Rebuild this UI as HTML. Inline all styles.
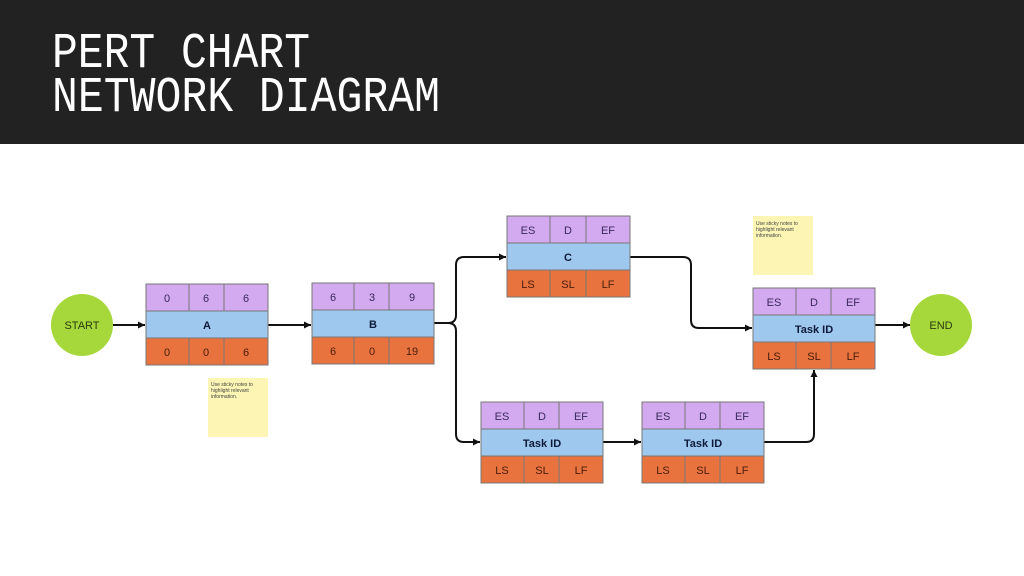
<!DOCTYPE html>
<html><head><meta charset="utf-8"><style>
html,body{margin:0;padding:0;background:#fff;}
svg{display:block;}
</style></head><body>
<svg width="1024" height="576" viewBox="0 0 1024 576" xmlns="http://www.w3.org/2000/svg" font-family="Liberation Sans, sans-serif">
<rect x="0" y="0" width="1024" height="144" fill="#222222"/>
<text x="52" y="67" fill="#fff" font-family="Liberation Mono, monospace" font-size="50" textLength="258" lengthAdjust="spacingAndGlyphs">PERT CHART</text>
<text x="52" y="111" fill="#fff" font-family="Liberation Mono, monospace" font-size="50" textLength="388" lengthAdjust="spacingAndGlyphs">NETWORK DIAGRAM</text>
<defs><marker id="ar" markerWidth="8" markerHeight="8" refX="7" refY="4" orient="auto" markerUnits="userSpaceOnUse"><path d="M0,0.5 L7,4 L0,7.5 Z" fill="#111"/></marker></defs>
<g fill="none" stroke="#111" stroke-width="2" marker-end="url(#ar)">
<line x1="113" y1="325" x2="145" y2="325"/>
<line x1="268" y1="325" x2="311" y2="325"/>
<path d="M434 323 H448 Q456 323 456 315 V265 Q456 257 464 257 H506"/>
<path d="M434 323 H448 Q456 323 456 331 V434 Q456 442 464 442 H480"/>
<path d="M630 257 H683 Q691 257 691 265 V320 Q691 328 699 328 H752"/>
<line x1="603" y1="442" x2="641" y2="442"/>
<path d="M764 442 H806 Q814 442 814 434 V370"/>
<line x1="875" y1="325" x2="910" y2="325"/>
</g>
<circle cx="82" cy="325" r="31" fill="#a6d83c"/>
<text x="82" y="329" font-size="11" text-anchor="middle" fill="#2a3a10">START</text>
<circle cx="941" cy="325" r="31" fill="#a6d83c"/>
<text x="941" y="329" font-size="11" text-anchor="middle" fill="#2a3a10">END</text>
<g font-size="11" text-anchor="middle" stroke-width="1">
<!-- A -->
<g transform="translate(146,284)">
<rect width="122" height="27" fill="#d3a9f0" stroke="#777"/><rect y="27" width="122" height="27" fill="#9fc8ee" stroke="#777"/><rect y="54" width="122" height="27" fill="#e8733e" stroke="#777"/>
<line x1="43" y1="0" x2="43" y2="27" stroke="#777"/><line x1="78" y1="0" x2="78" y2="27" stroke="#777"/><line x1="43" y1="54" x2="43" y2="81" stroke="#777"/><line x1="78" y1="54" x2="78" y2="81" stroke="#777"/>
<text x="21" y="18" fill="#3a2a5a">0</text><text x="60" y="18" fill="#3a2a5a">6</text><text x="100" y="18" fill="#3a2a5a">6</text>
<text x="61" y="45" font-weight="bold" fill="#0e1a3a">A</text>
<text x="21" y="72" fill="#4a1d0a">0</text><text x="60" y="72" fill="#4a1d0a">0</text><text x="100" y="72" fill="#4a1d0a">6</text>
</g>
<!-- B -->
<g transform="translate(312,283)">
<rect width="122" height="27" fill="#d3a9f0" stroke="#777"/><rect y="27" width="122" height="27" fill="#9fc8ee" stroke="#777"/><rect y="54" width="122" height="27" fill="#e8733e" stroke="#777"/>
<line x1="42" y1="0" x2="42" y2="27" stroke="#777"/><line x1="77" y1="0" x2="77" y2="27" stroke="#777"/><line x1="42" y1="54" x2="42" y2="81" stroke="#777"/><line x1="77" y1="54" x2="77" y2="81" stroke="#777"/>
<text x="21" y="18" fill="#3a2a5a">6</text><text x="60" y="18" fill="#3a2a5a">3</text><text x="100" y="18" fill="#3a2a5a">9</text>
<text x="61" y="45" font-weight="bold" fill="#0e1a3a">B</text>
<text x="21" y="72" fill="#4a1d0a">6</text><text x="60" y="72" fill="#4a1d0a">0</text><text x="100" y="72" fill="#4a1d0a">19</text>
</g>
<!-- C -->
<g transform="translate(507,216)">
<rect width="123" height="27" fill="#d3a9f0" stroke="#777"/><rect y="27" width="123" height="27" fill="#9fc8ee" stroke="#777"/><rect y="54" width="123" height="27" fill="#e8733e" stroke="#777"/>
<line x1="43" y1="0" x2="43" y2="27" stroke="#777"/><line x1="79" y1="0" x2="79" y2="27" stroke="#777"/><line x1="43" y1="54" x2="43" y2="81" stroke="#777"/><line x1="79" y1="54" x2="79" y2="81" stroke="#777"/>
<text x="21" y="18" fill="#3a2a5a">ES</text><text x="61" y="18" fill="#3a2a5a">D</text><text x="101" y="18" fill="#3a2a5a">EF</text>
<text x="61" y="45" font-weight="bold" fill="#0e1a3a">C</text>
<text x="21" y="72" fill="#4a1d0a">LS</text><text x="61" y="72" fill="#4a1d0a">SL</text><text x="101" y="72" fill="#4a1d0a">LF</text>
</g>
<!-- Right Task -->
<g transform="translate(753,288)">
<rect width="122" height="27" fill="#d3a9f0" stroke="#777"/><rect y="27" width="122" height="27" fill="#9fc8ee" stroke="#777"/><rect y="54" width="122" height="27" fill="#e8733e" stroke="#777"/>
<line x1="43" y1="0" x2="43" y2="27" stroke="#777"/><line x1="78" y1="0" x2="78" y2="27" stroke="#777"/><line x1="43" y1="54" x2="43" y2="81" stroke="#777"/><line x1="78" y1="54" x2="78" y2="81" stroke="#777"/>
<text x="21" y="18" fill="#3a2a5a">ES</text><text x="61" y="18" fill="#3a2a5a">D</text><text x="100" y="18" fill="#3a2a5a">EF</text>
<text x="61" y="45" font-weight="bold" fill="#0e1a3a">Task ID</text>
<text x="21" y="72" fill="#4a1d0a">LS</text><text x="61" y="72" fill="#4a1d0a">SL</text><text x="100" y="72" fill="#4a1d0a">LF</text>
</g>
<!-- Bottom 1 -->
<g transform="translate(481,402)">
<rect width="122" height="27" fill="#d3a9f0" stroke="#777"/><rect y="27" width="122" height="27" fill="#9fc8ee" stroke="#777"/><rect y="54" width="122" height="27" fill="#e8733e" stroke="#777"/>
<line x1="43" y1="0" x2="43" y2="27" stroke="#777"/><line x1="78" y1="0" x2="78" y2="27" stroke="#777"/><line x1="43" y1="54" x2="43" y2="81" stroke="#777"/><line x1="78" y1="54" x2="78" y2="81" stroke="#777"/>
<text x="21" y="18" fill="#3a2a5a">ES</text><text x="61" y="18" fill="#3a2a5a">D</text><text x="100" y="18" fill="#3a2a5a">EF</text>
<text x="61" y="45" font-weight="bold" fill="#0e1a3a">Task ID</text>
<text x="21" y="72" fill="#4a1d0a">LS</text><text x="61" y="72" fill="#4a1d0a">SL</text><text x="100" y="72" fill="#4a1d0a">LF</text>
</g>
<!-- Bottom 2 -->
<g transform="translate(642,402)">
<rect width="122" height="27" fill="#d3a9f0" stroke="#777"/><rect y="27" width="122" height="27" fill="#9fc8ee" stroke="#777"/><rect y="54" width="122" height="27" fill="#e8733e" stroke="#777"/>
<line x1="43" y1="0" x2="43" y2="27" stroke="#777"/><line x1="78" y1="0" x2="78" y2="27" stroke="#777"/><line x1="43" y1="54" x2="43" y2="81" stroke="#777"/><line x1="78" y1="54" x2="78" y2="81" stroke="#777"/>
<text x="21" y="18" fill="#3a2a5a">ES</text><text x="61" y="18" fill="#3a2a5a">D</text><text x="100" y="18" fill="#3a2a5a">EF</text>
<text x="61" y="45" font-weight="bold" fill="#0e1a3a">Task ID</text>
<text x="21" y="72" fill="#4a1d0a">LS</text><text x="61" y="72" fill="#4a1d0a">SL</text><text x="100" y="72" fill="#4a1d0a">LF</text>
</g>
</g>
<rect x="208" y="378" width="60" height="59" fill="#fcf5b4"/>
<text font-size="5" fill="#444"><tspan x="211" y="386">Use sticky notes to</tspan><tspan x="211" y="392">highlight relevant</tspan><tspan x="211" y="398">information.</tspan></text>
<rect x="753" y="216" width="60" height="59" fill="#fcf5b4"/>
<text font-size="5" fill="#444"><tspan x="756" y="225">Use sticky notes to</tspan><tspan x="756" y="231">highlight relevant</tspan><tspan x="756" y="237">information.</tspan></text>
</svg>
</body></html>
